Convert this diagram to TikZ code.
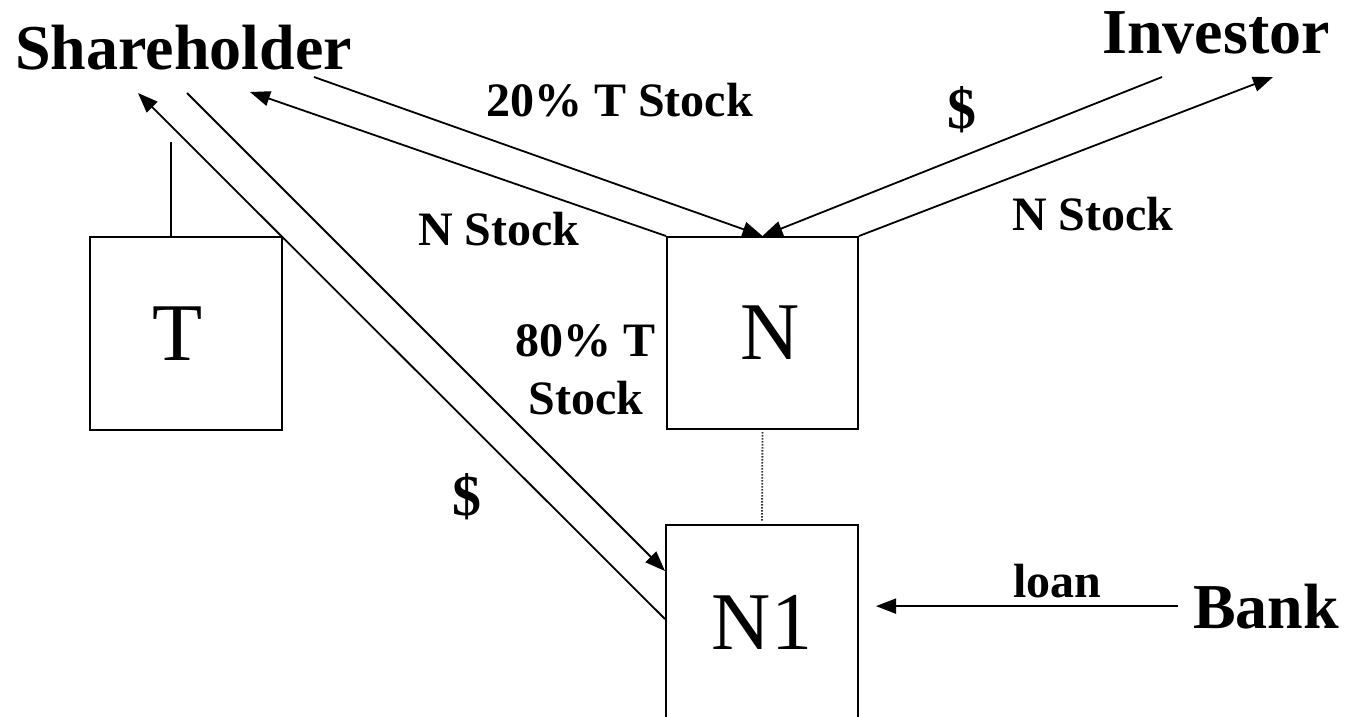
\documentclass[tikz,border=0pt]{standalone}
\usepackage{fontspec}
\setmainfont{Liberation Serif}
\usetikzlibrary{arrows.meta,calc}
\begin{document}
\begin{tikzpicture}[x=1pt,y=-1pt,
  box/.style={draw, line width=2pt, minimum width=191pt, minimum height=192pt, inner sep=0pt, font=\fontsize{82}{90}\selectfont},
  big/.style={inner sep=0pt, anchor=base west, font=\fontsize{64}{70}\selectfont\bfseries},
  lab/.style={inner sep=0pt, font=\fontsize{48}{58}\selectfont\bfseries},
  flow/.style={line width=1.8pt, -{Triangle[length=20pt,width=15pt]}},
  plain/.style={line width=1.8pt},
  link/.style={line width=1.8pt, dash pattern=on 1.5pt off 1.5pt, black!80},
]
\useasboundingbox (0,0) rectangle (1353,716);
% boxes
\node[box, minimum width=192pt, minimum height=193pt] (T) at (186,333.5) {\hspace*{-16pt}T};
\node[box] (N) at (762.5,333) {\hspace*{16pt}N};
\node[box, minimum width=192pt, minimum height=194pt] (N1) at (762,622) {N1};
% parties
\node[big] (SH) at (15,69) {Shareholder};
\node[big] (INV) at (1102,53) {Investor};
\node[big] (BANK) at (1193,628) {Bank};
% free ends of connectors
\coordinate (shA) at (250,92);
\coordinate (shB) at (314,77);
\coordinate (shC) at (138,93);
\coordinate (shD) at (187,93);
\coordinate (invA) at (1162,77);
\coordinate (invB) at (1273,77);
\coordinate (tTop) at (171,142);
% connectors
\draw[flow] (N.north west) -- (shA);
\draw[flow] (shB) -- (N.north);
\draw[flow] (invA) -- (N.north);
\draw[flow] (N.north east) -- (invB);
\draw[flow] ($(N1.north west)+(0,95)$) -- (shC);
\draw[flow] (shD) -- ($(N1.north west)+(0,47)$);
\draw[plain] (tTop) -- (tTop |- T.north);
\draw[link, shorten <=2pt, shorten >=3pt] (N.south) -- (N1.north);
\draw[flow, shorten <=15pt, shorten >=17pt] (BANK.west) -- (BANK.west -| N1.east);
% labels
\node[lab, anchor=base west] (l20) at (486,116) {20\% T Stock};
\node[lab, font=\fontsize{58}{60}\selectfont\bfseries] (ld1) at (961.5,110) {\$};
\node[lab, anchor=base west] (lns1) at (418,245) {N Stock};
\node[lab, anchor=base west] (lns2) at (1012,230) {N Stock};
\node[lab, align=center] (l80) at (586,370) {80\% T\\Stock};
\node[lab, font=\fontsize{58}{60}\selectfont\bfseries] (ld2) at (467,497) {\$};
\node[lab, anchor=base west] (lloan) at (1013,597) {loan};
\end{tikzpicture}
\end{document}
